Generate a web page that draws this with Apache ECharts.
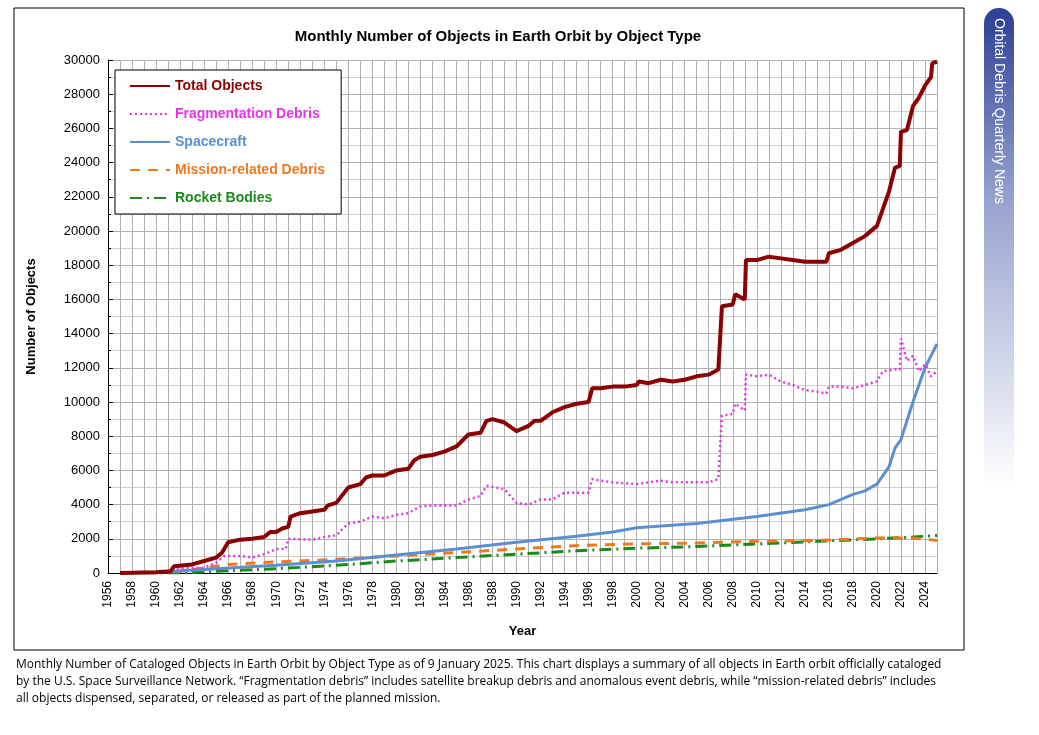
<!DOCTYPE html>
<html>
<head>
<meta charset="UTF-8">
<title>Monthly Number of Objects in Earth Orbit</title>
<script src="https://cdn.jsdelivr.net/npm/echarts@6/dist/echarts.min.js"></script>
<style>body{margin:0;background:#fff}</style>
</head>
<body>
<div id="main" style="width:1039px;height:735px;"></div>
<script>
// [year, count]
var totalObjects = [[1957,0],[1960,50],[1961.2,100],[1961.5,400],[1963,500],[1964,700],[1965,900],[1965.5,1200],[1966,1800],[1967,1950],[1968,2000],[1969,2100],[1969.5,2400],[1970,2400],[1970.5,2600],[1971,2700],[1971.2,3300],[1972,3500],[1973,3600],[1974,3700],[1974.3,3950],[1975,4100],[1976,5000],[1977,5200],[1977.5,5600],[1978,5700],[1979,5700],[1980,6000],[1981,6100],[1981.5,6600],[1982,6800],[1983,6900],[1984,7100],[1985,7400],[1986,8100],[1987,8200],[1987.5,8900],[1988,9000],[1989,8800],[1990,8300],[1991,8600],[1991.5,8900],[1992,8900],[1993,9400],[1994,9700],[1995,9900],[1996,10000],[1996.3,10800],[1997,10800],[1998,10900],[1999,10900],[2000,11000],[2000.2,11200],[2001,11100],[2002,11300],[2003,11200],[2004,11300],[2005,11500],[2006,11600],[2006.8,11900],[2007.1,15600],[2008,15700],[2008.2,16300],[2009,16000],[2009.1,18300],[2010,18300],[2011,18500],[2012,18400],[2013,18300],[2014,18200],[2015,18200],[2015.8,18200],[2016,18700],[2017,18900],[2018,19300],[2019,19700],[2020,20300],[2021,22300],[2021.5,23700],[2021.9,23800],[2022,25800],[2022.5,25900],[2023,27300],[2023.5,27800],[2024,28500],[2024.5,29000],[2024.6,29800],[2025,29900]];
var fragDebris = [[1961,0],[1961.5,250],[1964,300],[1965,600],[1965.7,1000],[1967,1000],[1968,900],[1969,1100],[1970,1400],[1970.8,1400],[1971,2000],[1973,1950],[1974,2100],[1975,2200],[1976,2900],[1977,3000],[1978,3300],[1979,3200],[1980,3400],[1981,3500],[1982,3900],[1983,3950],[1984,3950],[1985,3950],[1986,4300],[1987,4500],[1987.5,5100],[1989,4900],[1990,4100],[1991,4000],[1992,4300],[1993,4300],[1994,4700],[1995,4700],[1996,4700],[1996.3,5500],[1997,5400],[1998,5300],[2000,5200],[2001,5300],[2002,5400],[2003,5300],[2004,5300],[2006,5300],[2006.8,5500],[2007.1,9200],[2008,9300],[2008.2,9900],[2009,9500],[2009.1,11600],[2010,11500],[2011,11600],[2012,11200],[2013,11000],[2014,10700],[2015,10600],[2015.8,10500],[2016,10900],[2017,10900],[2018,10800],[2019,11000],[2020,11200],[2020.5,11800],[2021.5,11900],[2021.9,11900],[2022,13700],[2022.5,12400],[2023,12700],[2023.5,11800],[2024,12200],[2024.5,11500],[2025,11800]];
var spacecraft = [[1957,0],[1960,50],[1965,250],[1970,450],[1975,700],[1980,1050],[1985,1400],[1990,1800],[1995,2150],[1998,2400],[2000,2650],[2005,2900],[2010,3300],[2014,3700],[2016,4000],[2018,4600],[2019,4800],[2020,5200],[2021,6200],[2021.5,7300],[2022,7800],[2023,10000],[2024,12000],[2025,13400]];
var missionDebris = [[1957,0],[1962,100],[1964,300],[1966,500],[1970,650],[1975,800],[1980,1000],[1985,1200],[1990,1400],[1995,1600],[2000,1700],[2005,1750],[2010,1850],[2015,1900],[2020,2050],[2023,2050],[2025,1900]];
var rocketBodies = [[1957,0],[1962,0],[1965,100],[1970,250],[1975,450],[1980,700],[1985,900],[1990,1100],[1995,1300],[2000,1450],[2005,1550],[2010,1700],[2015,1850],[2020,2000],[2023,2100],[2025,2200]];

var seriesNames = ['Total Objects', 'Fragmentation Debris', 'Spacecraft', 'Mission-related Debris', 'Rocket Bodies'];
var seriesColors = ['#8b0000', '#e633e6', '#5b8fd0', '#f07820', '#1a8a1a'];
var lineTypes = ['solid', [2, 3], 'solid', [10, 8], [12, 5, 2, 5]];
var lineWidths = [4, 2.5, 3, 3, 3];
var seriesData = [totalObjects, fragDebris, spacecraft, missionDebris, rocketBodies];

var myChart = echarts.init(document.getElementById('main'));

var option = {
	animation: false,
	title: {
		text: 'Monthly Number of Objects in Earth Orbit by Object Type',
		left: 493, top: 24, textAlign: 'center',
		textStyle: {fontFamily: 'Liberation Sans', fontSize: 15, fontWeight: 'bold', color: '#000'}
	},
	legend: {
		orient: 'vertical', left: 115, top: 70,
		padding: [9, 16, 9, 14], itemGap: 14,
		itemWidth: 40, itemHeight: 10,
		borderColor: '#000', borderWidth: 1, backgroundColor: '#fff',
		itemStyle: {color: 'transparent', borderWidth: 0},
		data: seriesNames.map(function (n, i) {
			return {name: n, textStyle: {color: seriesColors[i], fontWeight: 'bold', fontSize: 14, fontFamily: 'Liberation Sans'}};
		})
	},
	grid: {left: 108, top: 60, right: 102, bottom: 162},
	xAxis: {
		type: 'value', min: 1956, max: 2025, interval: 2,
		name: 'Year', nameLocation: 'middle', nameGap: 52,
		nameTextStyle: {fontFamily: 'Liberation Sans', fontWeight: 'bold', fontSize: 13, color: '#000'},
		axisLine: {lineStyle: {color: '#000'}},
		axisTick: {show: false},
		axisLabel: {rotate: 90, color: '#000', fontFamily: 'Liberation Sans', fontSize: 12, showMaxLabel: false, formatter: function (v) { return v; }},
		splitLine: {show: true, lineStyle: {color: '#b0b0b0'}},
		minorTick: {show: false, splitNumber: 2},
		minorSplitLine: {show: true, lineStyle: {color: '#b0b0b0'}}
	},
	yAxis: {
		type: 'value', min: 0, max: 30000, interval: 2000,
		name: 'Number of Objects', nameLocation: 'middle', nameGap: 70,
		nameTextStyle: {fontFamily: 'Liberation Sans', fontWeight: 'bold', fontSize: 13, color: '#000'},
		axisLine: {show: true, lineStyle: {color: '#000'}},
		axisTick: {show: true, inside: true, length: 5, lineStyle: {color: '#000'}},
		minorTick: {show: true, splitNumber: 2, length: 3, lineStyle: {color: '#000'}},
		axisLabel: {color: '#000', fontFamily: 'Liberation Sans', fontSize: 13, formatter: function (v) { return String(v); }},
		splitLine: {lineStyle: {color: '#b0b0b0'}},
		minorSplitLine: {show: true, lineStyle: {color: '#d0d0d0'}}
	},
	graphic: [
		{type: 'rect', shape: {x: 14, y: 8, width: 950, height: 642}, style: {fill: 'none', stroke: '#000', lineWidth: 1}, silent: true, z: -1},
		{type: 'rect', shape: {x: 984, y: 8, width: 30, height: 480, r: [15, 15, 0, 0]},
			style: {fill: new echarts.graphic.LinearGradient(0, 0, 0, 1, [{offset: 0, color: '#2b3f94'}, {offset: 0.4, color: '#97a3cf'}, {offset: 1, color: '#ffffff'}])}},
		{type: 'text', x: 1006, y: 18, rotation: -Math.PI / 2, z: 100,
			style: {text: 'Orbital Debris Quarterly News', fill: '#fff', font: '14px "Liberation Sans"'}}
	],
	series: seriesNames.map(function (n, i) {
		return {
			name: n, type: 'line', data: seriesData[i], showSymbol: false, symbol: 'none',
			z: 10 - i,
			lineStyle: {color: seriesColors[i], width: lineWidths[i], type: lineTypes[i]},
			itemStyle: {color: seriesColors[i]}
		};
	})
};
option.graphic.push({type: 'text', left: 16, top: 656,
	style: {text: 'Monthly Number of Cataloged Objects in Earth Orbit by Object Type as of 9 January 2025. This chart displays a summary of all objects in Earth orbit officially cataloged\nby the U.S. Space Surveillance Network. \u201cFragmentation debris\u201d includes satellite breakup debris and anomalous event debris, while \u201cmission-related debris\u201d includes\nall objects dispensed, separated, or released as part of the planned mission.',
		fill: '#000', font: '12px "Open Sans"', lineHeight: 17}});
myChart.setOption(option);
</script>
</body>
</html>
